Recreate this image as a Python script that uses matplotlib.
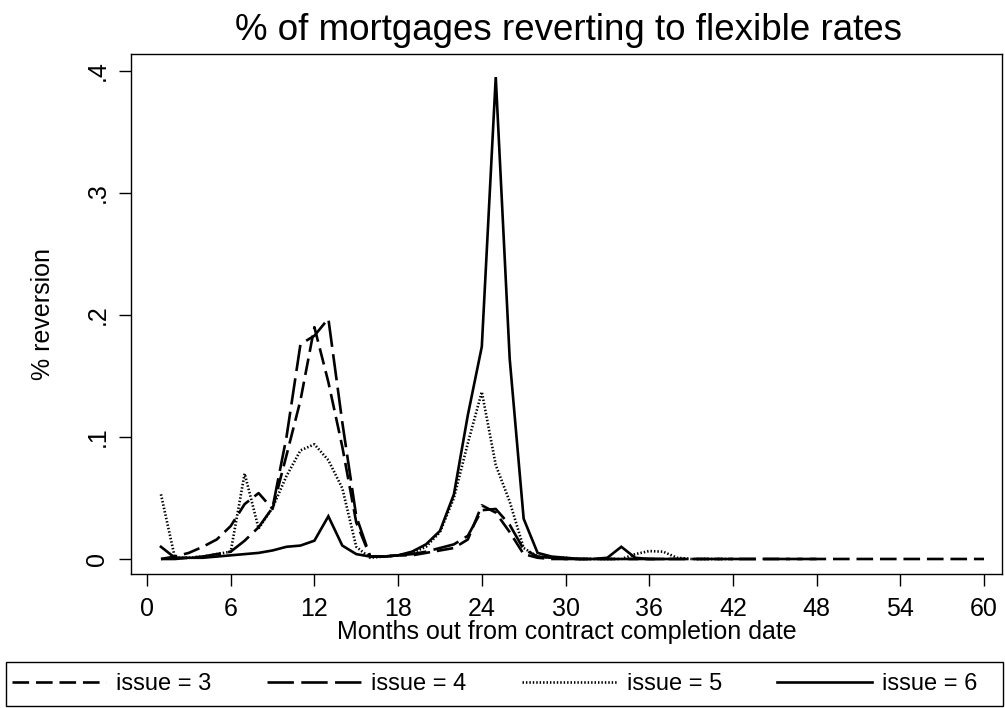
import matplotlib
matplotlib.use("Agg")
import matplotlib.pyplot as plt
from matplotlib.patches import Rectangle
import numpy as np

plt.rcParams['font.family'] = ['Liberation Sans', 'DejaVu Sans']

# Share of mortgages reverting to flexible rates, by month since contract completion
months = np.arange(1, 61)

issue_3 = [0.000, 0.002, 0.005, 0.010, 0.016, 0.027, 0.045, 0.054, 0.041, 0.085,
           0.130, 0.190, 0.145, 0.092, 0.030, 0.002, 0.002, 0.003, 0.003, 0.005,
           0.007, 0.009, 0.016, 0.044, 0.038, 0.022, 0.004, 0.001, 0.000, 0.000,
           0.000, 0.000, 0.000, 0.000, 0.000, 0.000, 0.000, 0.000, 0.000, 0.000,
           0.000, 0.000, 0.000, 0.000, 0.000, 0.000, 0.000, 0.000, 0.000, 0.000,
           0.000, 0.000, 0.000, 0.000, 0.000, 0.000, 0.000, 0.000, 0.000, 0.000]

issue_4 = [0.000, 0.000, 0.001, 0.002, 0.004, 0.006, 0.015, 0.026, 0.042, 0.100,
           0.176, 0.183, 0.197, 0.112, 0.035, 0.002, 0.002, 0.003, 0.004, 0.006,
           0.009, 0.012, 0.019, 0.040, 0.041, 0.028, 0.008, 0.002, 0.001, 0.000,
           0.000, 0.000, 0.000, 0.000, 0.000, 0.000, 0.000, 0.000, 0.000, 0.000,
           0.000, 0.000, 0.000, 0.000, 0.000, 0.000, 0.000, 0.000]

issue_5 = [0.053, 0.001, 0.001, 0.002, 0.004, 0.006, 0.070, 0.025, 0.042, 0.068,
           0.089, 0.094, 0.081, 0.058, 0.010, 0.001, 0.002, 0.003, 0.005, 0.010,
           0.022, 0.050, 0.095, 0.137, 0.077, 0.047, 0.009, 0.002, 0.001, 0.001,
           0.000, 0.000, 0.000, 0.000, 0.004, 0.0065, 0.006, 0.001, 0.000, 0.000,
           0.000, 0.000]

issue_6 = [0.010, 0.001, 0.001, 0.001, 0.002, 0.003, 0.004, 0.005, 0.007, 0.010,
           0.011, 0.015, 0.035, 0.011, 0.004, 0.002, 0.002, 0.003, 0.006, 0.012,
           0.023, 0.053, 0.118, 0.174, 0.395, 0.164, 0.033, 0.005, 0.002, 0.001,
           0.000, 0.000, 0.001, 0.010, 0.001, 0.000, 0.000]

series_labels = ['issue = 3', 'issue = 4', 'issue = 5', 'issue = 6']
x_ticks = np.arange(0, 61, 6)
y_ticks = [0.0, 0.1, 0.2, 0.3, 0.4]
y_tick_labels = ['0', '.1', '.2', '.3', '.4']

W, H = 1005, 708
fig = plt.figure(figsize=(W / 100, H / 100), dpi=100)
ax = fig.add_axes([131 / W, 1 - 574 / H, (1002 - 131) / W, (574 - 54) / H])

LW = 1.9
styles = [
    dict(linestyle=(0, (6.3, 2.6))),         # dash
    dict(linestyle=(0, (10.0, 2.8))),        # long dash
    dict(linestyle=(0, (0.55, 0.75))),       # fine dots
    dict(linestyle='-'),                     # solid
]
all_series = [issue_3, issue_4, issue_5, issue_6]
for vals, lab, st in zip(all_series, series_labels, styles):
    ax.plot(months[:len(vals)], vals, color='black', lw=LW, label=lab,
            dash_capstyle='butt', solid_joinstyle='miter', **st)

ax.set_xlim(-1.147, 61.29)
ax.set_ylim(-0.0123, 0.4139)
ax.set_xticks(x_ticks)
ax.set_xticklabels([str(t) for t in x_ticks])
ax.set_yticks(y_ticks)
ax.set_yticklabels(y_tick_labels, rotation=90, va='center')
ax.tick_params(axis='both', direction='out', length=8.5, width=1.0,
               labelsize=18, color='black')
ax.tick_params(axis='x', pad=8)
ax.tick_params(axis='y', pad=7)
for sp in ax.spines.values():
    sp.set_linewidth(1.0)
    sp.set_color('black')

fig.text(568 / W, 1 - 30 / H, '% of mortgages reverting to flexible rates',
         ha='center', va='center', fontsize=26.5)
fig.text(567 / W, 1 - 632 / H, 'Months out from contract completion date',
         ha='center', va='center', fontsize=18)
fig.text(43 / W, 1 - 314 / H, '% reversion', ha='center', va='center',
         rotation=90, fontsize=18)

# legend box spanning the bottom of the figure
fig.patches.append(Rectangle((6 / W, 1 - 706 / H), (1003 - 6) / W, (706 - 662) / H,
                             transform=fig.transFigure, fill=False,
                             edgecolor='black', linewidth=1.0))
handles, labels = ax.get_legend_handles_labels()
leg = fig.legend(handles, labels, loc='center left', ncol=4,
                 bbox_to_anchor=(12 / W, 1 - 684 / H),
                 fontsize=17, handlelength=4.0, handletextpad=0.42,
                 columnspacing=2.35, borderaxespad=0, borderpad=0,
                 frameon=False)

fig.savefig('out.png', dpi=100)
